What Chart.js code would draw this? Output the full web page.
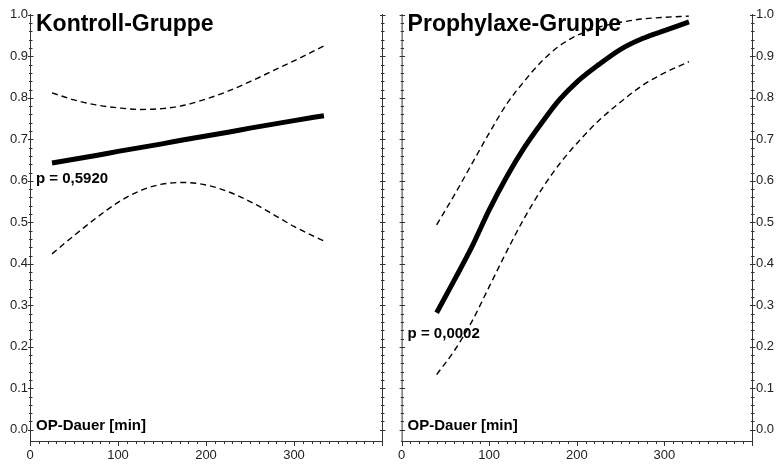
<!DOCTYPE html>
<html>
<head>
<meta charset="utf-8">
<script src="https://cdn.jsdelivr.net/npm/chart.js@4.4.0/dist/chart.umd.min.js"></script>
<style>
  html, body { margin: 0; padding: 0; background: #fff; }
  #wrap { position: relative; width: 781px; height: 465px; overflow: hidden; }
  canvas { position: absolute; top: 0; }
</style>
</head>
<body>
<div id="wrap">
  <canvas id="kontroll" width="391" height="465" style="left:0px"></canvas>
  <canvas id="prophylaxe" width="390" height="465" style="left:391px"></canvas>
</div>
<script>
// OP-Dauer (min) and fitted probability with confidence band
const kontrollX     = [25, 50, 75, 100, 125, 150, 175, 200, 225, 250, 275, 300, 334];
const kontrollFit   = [0.643, 0.652, 0.661, 0.671, 0.680, 0.689, 0.699, 0.708, 0.717, 0.727, 0.736, 0.745, 0.757];
const kontrollUpper = [0.812, 0.795, 0.783, 0.776, 0.772, 0.774, 0.782, 0.797, 0.816, 0.839, 0.864, 0.889, 0.925];
const kontrollLower = [0.424, 0.468, 0.510, 0.548, 0.576, 0.592, 0.596, 0.590, 0.574, 0.550, 0.521, 0.490, 0.455];

const prophX     = [40, 60, 80, 100, 120, 140, 160, 180, 200, 225, 250, 275, 300, 328];
const prophFit   = [0.282, 0.360, 0.440, 0.530, 0.610, 0.680, 0.740, 0.795, 0.838, 0.880, 0.917, 0.943, 0.962, 0.983];
const prophUpper = [0.494, 0.565, 0.640, 0.715, 0.785, 0.840, 0.888, 0.925, 0.950, 0.970, 0.982, 0.990, 0.994, 0.997];
const prophLower = [0.133, 0.190, 0.260, 0.345, 0.430, 0.510, 0.580, 0.640, 0.690, 0.745, 0.790, 0.830, 0.860, 0.887];

const xTicks = [0, 100, 200, 300];
const yTicks = [0, 0.1, 0.2, 0.3, 0.4, 0.5, 0.6, 0.7, 0.8, 0.9, 1.0];

const FONT = "'Liberation Sans', Arial, Helvetica, sans-serif";
const AXIS_COLOR = '#333';

function pts(xs, ys) {
    return xs.map((x, i) => ({ x: x, y: ys[i] }));
}

function lineSet(xs, ys, dashed) {
    return {
        data: pts(xs, ys),
        borderColor: '#000',
        borderWidth: dashed ? 1.4 : 5,
        borderDash: dashed ? [6, 4] : [],
        borderCapStyle: 'butt',
        pointRadius: 0,
        cubicInterpolationMode: 'monotone',
        fill: false
    };
}

// small tick marks crossing the axis lines, plus the extra frame lines
function drawTicks(chart, sides) {
    const ctx = chart.ctx;
    const x = chart.scales.x;
    const y = chart.scales.y;
    const area = chart.chartArea;
    ctx.save();
    ctx.strokeStyle = AXIS_COLOR;
    ctx.lineWidth = 1;
    ctx.beginPath();
    sides.forEach(side => {
        const px = side === 'left' ? area.left : area.right;
        if (side !== sides.axis) {
            ctx.moveTo(px + 0.5, area.top);
            ctx.lineTo(px + 0.5, area.bottom);
        }
        for (let i = 0; i <= 50; i++) {
            const v = i * 0.02;
            const py = Math.round(y.getPixelForValue(v)) + 0.5;
            const len = i % 5 === 0 ? 2.5 : 1.5;
            ctx.moveTo(px + 0.5 - len, py);
            ctx.lineTo(px + 0.5 + len + 0.5, py);
        }
    });
    for (let i = 0; i <= 40; i++) {
        const v = i * 10;
        const px = Math.round(x.getPixelForValue(v)) + 0.5;
        const len = i % 10 === 0 ? 5 : 3;
        ctx.moveTo(px, area.bottom);
        ctx.lineTo(px, area.bottom + len);
    }
    ctx.stroke();
    ctx.restore();
}

function drawTexts(chart, title, pText, pY) {
    const ctx = chart.ctx;
    const left = chart.chartArea.left + 6;
    ctx.save();
    ctx.fillStyle = '#000';
    ctx.textAlign = 'left';
    ctx.textBaseline = 'alphabetic';
    ctx.font = 'bold 23px ' + FONT;
    ctx.fillText(title, left, 31);
    ctx.font = 'bold 15px ' + FONT;
    ctx.fillText(pText, left, pY);
    ctx.fillText('OP-Dauer [min]', left, 430);
    ctx.restore();
}

function makeChart(id, cfg) {
    const yPos = cfg.axisSide;
    return new Chart(document.getElementById(id), {
        type: 'line',
        data: {
            datasets: [
                lineSet(cfg.xs, cfg.upper, true),
                lineSet(cfg.xs, cfg.lower, true),
                lineSet(cfg.xs, cfg.fit, false)
            ]
        },
        options: {
            responsive: false,
            animation: false,
            devicePixelRatio: 1,
            layout: { padding: cfg.padding },
            plugins: { legend: { display: false }, tooltip: { enabled: false } },
            scales: {
                x: {
                    type: 'linear',
                    min: 0,
                    max: 400,
                    afterBuildTicks: s => { s.ticks = xTicks.map(v => ({ value: v })); },
                    afterFit: s => { s.height = 24; },
                    grid: { drawOnChartArea: false, drawTicks: false },
                    border: { color: AXIS_COLOR, width: 1 },
                    ticks: { padding: 7, color: '#222', font: { family: FONT, size: 13 }, maxRotation: 0 }
                },
                y: {
                    type: 'linear',
                    position: yPos,
                    min: -0.027,
                    max: 1.002,
                    afterBuildTicks: s => { s.ticks = yTicks.map(v => ({ value: v })); },
                    afterFit: s => { s.width = cfg.yWidth; },
                    grid: { drawOnChartArea: false, drawTicks: false },
                    border: { color: AXIS_COLOR, width: 1 },
                    ticks: {
                        padding: yPos === 'left' ? 2 : 4,
                        color: '#222',
                        font: { family: FONT, size: 13 },
                        callback: v => v.toFixed(1)
                    }
                }
            }
        },
        plugins: [{
            id: 'frame',
            afterDraw: chart => {
                const sides = ['left', 'right'];
                sides.axis = yPos;
                drawTicks(chart, sides);
                drawTexts(chart, cfg.title, cfg.pText, cfg.pY);
            }
        }]
    });
}

makeChart('kontroll', {
    xs: kontrollX, fit: kontrollFit, upper: kontrollUpper, lower: kontrollLower,
    axisSide: 'left', yWidth: 30,
    padding: { left: 0, right: 9, top: 14, bottom: 0 },
    title: 'Kontroll-Gruppe', pText: 'p = 0,5920', pY: 183
});

makeChart('prophylaxe', {
    xs: prophX, fit: prophFit, upper: prophUpper, lower: prophLower,
    axisSide: 'right', yWidth: 29,
    padding: { left: 9, right: 0, top: 14, bottom: 0 },
    title: 'Prophylaxe-Gruppe', pText: 'p = 0,0002', pY: 338
});
</script>
</body>
</html>
